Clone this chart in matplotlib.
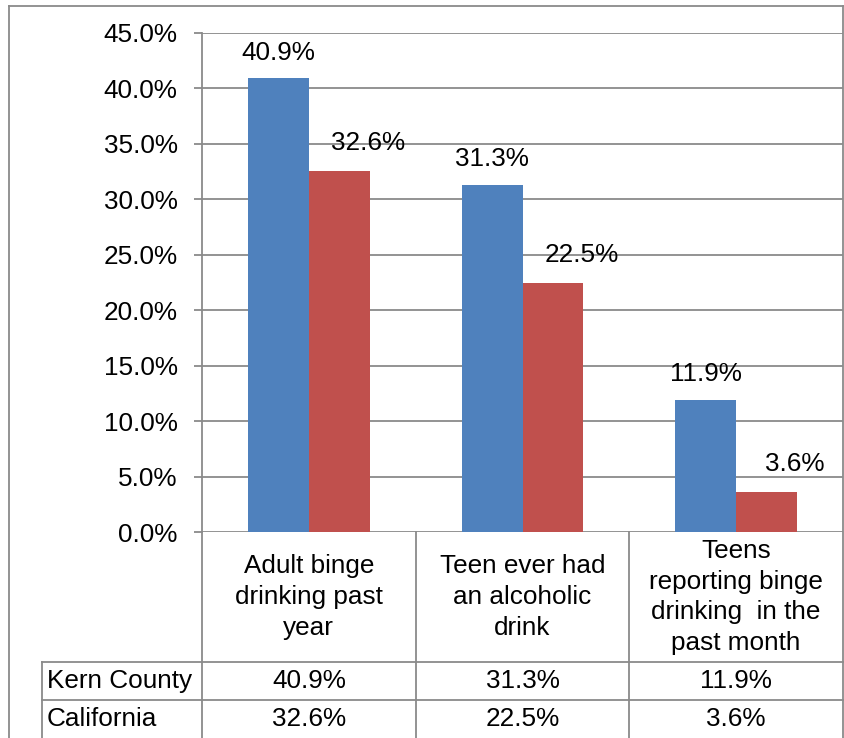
import matplotlib
matplotlib.use("Agg")

import matplotlib.pyplot as plt  # noqa: E402
import numpy as np               # noqa: E402
from matplotlib.lines import Line2D  # noqa: E402

# ─── Data ────────────────────────────────────────────────────────────────────
categories = [
    "Adult binge\ndrinking past\nyear",
    "Teen ever had\nan alcoholic\ndrink",
    "Teens\nreporting binge\ndrinking  in the\npast month",
]
series_names = ["Kern County", "California"]
kern = [40.9, 31.3, 11.9]
california = [32.6, 22.5, 3.6]
y_ticks = [0, 5, 10, 15, 20, 25, 30, 35, 40, 45]

# ─── Style ───────────────────────────────────────────────────────────────────
BLUE = "#4F81BD"
RED = "#C0504D"
LINE = "#8a8a8a"
FS = 18.8
LW = 1.3

plt.rcParams["font.family"] = ["Liberation Sans", "DejaVu Sans"]

W, H = 844, 738
fig = plt.figure(figsize=(W / 100, H / 100), dpi=100)


def px_box(left, top, right, bottom):
    """Pixel box (from top-left) -> figure fraction rect."""
    return [left / W, 1 - bottom / H, (right - left) / W, (bottom - top) / H]


# ── Bar chart ────────────────────────────────────────────────────────────────
ax = fig.add_axes(px_box(202, 33, 843, 532))
x = np.arange(len(categories))
bw = 0.285
bars_k = ax.bar(x - bw / 2, kern, bw, color=BLUE, zorder=3)
bars_c = ax.bar(x + bw / 2, california, bw, color=RED, zorder=3)

ax.set_xlim(-0.5, len(categories) - 0.5)
ax.set_ylim(y_ticks[0], y_ticks[-1])
ax.set_yticks(y_ticks)
ax.set_yticklabels([f"{t:.1f}%" for t in y_ticks], fontsize=FS)
ax.set_xticks([])
ax.yaxis.grid(True, color=LINE, lw=LW)
ax.set_axisbelow(True)
ax.tick_params(axis="y", length=6, width=LW, color=LINE, pad=11.5)
for side in ("top", "right", "bottom"):
    ax.spines[side].set_visible(False)
ax.spines["left"].set_color(LINE)
ax.spines["left"].set_linewidth(LW)

for rect, v in zip(bars_k, kern):
    ax.annotate(f"{v:.1f}%", (rect.get_x() + rect.get_width() / 2, v),
                xytext=(0, 18.5), textcoords="offset points",
                ha="center", va="center", fontsize=FS)
for rect, v in zip(bars_c, california):
    ax.annotate(f"{v:.1f}%", (rect.get_x() + rect.get_width() / 2, v),
                xytext=(20.5, 20), textcoords="offset points",
                ha="center", va="center", fontsize=FS)

# ── Data table under the chart ───────────────────────────────────────────────
tab = fig.add_axes(px_box(202, 532, 843, 738))
tab.set_xlim(-0.5, len(categories) - 0.5)
tab.set_ylim(206, 0)
tab.axis("off")

head_bottom, row1_bottom, row2_bottom = 130, 168, 206
px_per_cat = (843 - 202) / len(categories)
row_left = -0.5 - (202 - 42) / px_per_cat


def tline(xs, ys):
    tab.add_line(Line2D(xs, ys, color=LINE, lw=LW, clip_on=False))


for b in np.arange(len(categories)) - 0.5:
    tline([b, b], [0, row2_bottom])
for yb in (head_bottom, row1_bottom):
    tline([row_left, len(categories) - 0.5], [yb, yb])
tline([row_left, row_left], [head_bottom, row2_bottom])

for i, cat in enumerate(categories):
    tab.text(i, head_bottom / 2, cat, ha="center", va="center",
             multialignment="center", fontsize=FS, linespacing=1.36)

rows = [(series_names[0], kern, (head_bottom + row1_bottom) / 2),
        (series_names[1], california, (row1_bottom + row2_bottom) / 2)]
for name, vals, yc in rows:
    tab.text(row_left + 5 / px_per_cat, yc, name, ha="left", va="center",
             fontsize=FS, clip_on=False)
    for i, v in enumerate(vals):
        tab.text(i, yc, f"{v:.1f}%", ha="center", va="center", fontsize=FS)

# ── Chart frame ──────────────────────────────────────────────────────────────
for xs, ys in (([9, 9], [6, 738]), ([9, 843], [6, 6]), ([843, 843], [6, 738])):
    fig.add_artist(Line2D([v / W for v in xs], [1 - v / H for v in ys],
                          transform=fig.transFigure, color=LINE, lw=LW))

fig.savefig("out.png", dpi=100)
